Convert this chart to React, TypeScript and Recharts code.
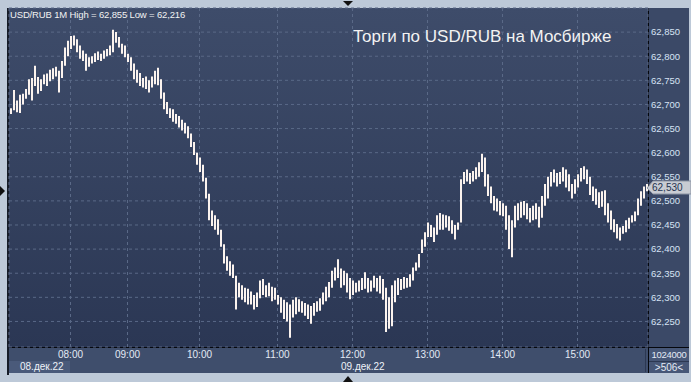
import React from "react";
import { ComposedChart, Bar, XAxis, YAxis, CartesianGrid } from "recharts";

// 1M bars USD/RUB (3 px per bar)
const highs = [
  62.692, 62.73, 62.708, 62.72, 62.722, 62.732, 62.752, 62.755, 62.78, 62.757,
  62.752, 62.762, 62.764, 62.772, 62.775, 62.778, 62.77, 62.79, 62.818, 62.832,
  62.842, 62.843, 62.835, 62.822, 62.812, 62.805, 62.798, 62.8, 62.806, 62.81,
  62.805, 62.812, 62.815, 62.822, 62.855, 62.85, 62.84, 62.826, 62.822, 62.805,
  62.798, 62.785, 62.772, 62.765, 62.755, 62.758, 62.75, 62.758, 62.77, 62.776,
  62.752, 62.725, 62.705, 62.692, 62.69, 62.68, 62.676, 62.668, 62.662, 62.655,
  62.64, 62.622, 62.6, 62.59, 62.575, 62.548, 62.515, 62.48, 62.47, 62.462,
  62.44, 62.41, 62.385, 62.375, 62.368, 62.345, 62.33, 62.325, 62.32, 62.318,
  62.312, 62.305, 62.31, 62.335, 62.338, 62.325, 62.33, 62.322, 62.32, 62.305,
  62.3, 62.295, 62.29, 62.285, 62.295, 62.3, 62.296, 62.292, 62.288, 62.285,
  62.282, 62.288, 62.292, 62.298, 62.31, 62.322, 62.332, 62.355, 62.362, 62.379,
  62.36, 62.355, 62.35, 62.34, 62.335, 62.33, 62.335, 62.34, 62.352, 62.34,
  62.335, 62.345, 62.34, 62.345, 62.338, 62.32, 62.3, 62.325, 62.335, 62.34,
  62.338, 62.342, 62.34, 62.348, 62.362, 62.372, 62.39, 62.42, 62.435, 62.455,
  62.45, 62.445, 62.47, 62.475, 62.472, 62.47, 62.468, 62.46, 62.45, 62.455,
  62.545, 62.56, 62.565, 62.558, 62.562, 62.57, 62.58, 62.598, 62.59, 62.555,
  62.53, 62.51, 62.505, 62.5, 62.495, 62.49, 62.47, 62.46, 62.49, 62.495,
  62.498, 62.5, 62.495, 62.485, 62.49, 62.495, 62.488, 62.51, 62.535, 62.55,
  62.56, 62.565, 62.558, 62.56, 62.57, 62.565, 62.555, 62.535, 62.545, 62.555,
  62.568, 62.572, 62.565, 62.55, 62.53, 62.525, 62.518, 62.52, 62.522, 62.495,
  62.48, 62.462, 62.452, 62.445, 62.448, 62.46, 62.465, 62.47, 62.478, 62.505,
  62.52, 62.53, 62.535,
];

const lows = [
  62.68, 62.688, 62.684, 62.682, 62.7, 62.712, 62.72, 62.708, 62.738, 62.722,
  62.728, 62.742, 62.738, 62.748, 62.752, 62.758, 62.725, 62.755, 62.78, 62.8,
  62.815, 62.822, 62.808, 62.795, 62.79, 62.77, 62.778, 62.785, 62.788, 62.792,
  62.79, 62.795, 62.8, 62.802, 62.808, 62.828, 62.818, 62.805, 62.798, 62.788,
  62.77, 62.752, 62.745, 62.738, 62.735, 62.732, 62.725, 62.735, 62.742, 62.74,
  62.712, 62.69, 62.68, 62.672, 62.664, 62.66, 62.652, 62.646, 62.64, 62.63,
  62.612, 62.595, 62.575, 62.56, 62.54, 62.505, 62.46, 62.448, 62.44, 62.43,
  62.405, 62.37, 62.355, 62.345, 62.34, 62.275, 62.3, 62.295, 62.29, 62.285,
  62.285, 62.275, 62.28, 62.298, 62.305, 62.3, 62.302, 62.292, 62.295, 62.285,
  62.268, 62.255, 62.25, 62.216, 62.258, 62.265, 62.27, 62.268, 62.262, 62.255,
  62.245, 62.262, 62.27, 62.272, 62.285, 62.292, 62.3, 62.32, 62.335, 62.34,
  62.32, 62.325, 62.31, 62.296, 62.305, 62.31, 62.312, 62.315, 62.318, 62.31,
  62.312, 62.32, 62.312, 62.308, 62.295, 62.228, 62.235, 62.24, 62.29, 62.305,
  62.315, 62.318, 62.32, 62.322, 62.335, 62.355, 62.362, 62.392, 62.405, 62.425,
  62.425, 62.415, 62.43, 62.44, 62.44, 62.445, 62.438, 62.432, 62.42, 62.44,
  62.455, 62.535, 62.54, 62.535, 62.54, 62.545, 62.55, 62.56, 62.53, 62.51,
  62.495, 62.48, 62.478, 62.47, 62.468, 62.44, 62.4, 62.383, 62.445, 62.46,
  62.465, 62.47, 62.462, 62.455, 62.46, 62.462, 62.445, 62.465, 62.49, 62.505,
  62.53, 62.538, 62.53, 62.535, 62.54, 62.528, 62.52, 62.505, 62.515, 62.528,
  62.54, 62.545, 62.535, 62.512, 62.5, 62.492, 62.485, 62.488, 62.47, 62.455,
  62.44, 62.435, 62.422, 62.418, 62.432, 62.435, 62.442, 62.455, 62.458, 62.47,
  62.49, 62.505, 62.52,
];

const hourLabels = ["08:00", "09:00", "10:00", "11:00", "12:00", "13:00", "14:00", "15:00"];
const hourBars = [20, 39, 63, 89, 114, 139, 164, 189];
const priceTicks = [
  62.25, 62.3, 62.35, 62.4, 62.45, 62.5, 62.55, 62.6, 62.65, 62.7, 62.75, 62.8, 62.85,
];
const dayLabels = ["08.дек.22", "09.дек.22"];
const lastPrice = 62.53;
const volume = "1024000";
const barCount = ">506<";

const data = highs.map((h, i) => ({ i, high: h, low: lows[i] }));

const FONT = "'Liberation Sans', Arial, sans-serif";
const fmt = (v: number) => v.toFixed(3).replace(".", ",");

const abs = (s: React.CSSProperties): React.CSSProperties => ({ position: "absolute", ...s });

export default function App() {
  return (
    <div style={abs({ left: 0, top: 0, width: 691, height: 382, background: "#bdc9d8", overflow: "hidden", fontFamily: FONT })}>
      {/* plot background */}
      <div style={abs({ left: 9, top: 8, width: 639, height: 339, background: "linear-gradient(#3e4c6a, #2b3754)" })} />
      {/* right axis panel */}
      <div style={abs({ left: 649, top: 8, width: 40, height: 339, background: "#3b4967" })} />
      {/* bottom axis panel */}
      <div style={abs({ left: 9, top: 348, width: 680, height: 25, background: "#3f4e6c" })} />
      <div style={abs({ left: 9, top: 361, width: 61, height: 12, background: "#4a5a7a" })} />
      <div style={abs({ left: 649, top: 348, width: 40, height: 25, background: "#475777" })} />
      <div style={abs({ left: 649, top: 361, width: 40, height: 1, background: "#2c3852" })} />
      <div style={abs({ left: 645, top: 349, width: 1, height: 23, background: "#2c3852" })} />
      {/* dark frame lines */}
      <div style={abs({ left: 7, top: 8, width: 2, height: 367, background: "#161c28" })} />
      <div style={abs({ left: 648, top: 8, width: 1, height: 365, background: "#05070c" })} />
      <div style={abs({ left: 9, top: 347, width: 680, height: 1, background: "#05070c" })} />

      <div style={abs({ left: 0, top: 0 })}>
        <ComposedChart
          width={691}
          height={382}
          data={data}
          margin={{ top: 8, right: 0, left: 9, bottom: 0 }}
          barCategoryGap={0}
        >
          <CartesianGrid stroke="#5a6987" strokeDasharray="3 3" />
          <XAxis
            dataKey="i"
            type="category"
            ticks={hourBars}
            interval={0}
            height={35}
            tickSize={0}
            tickMargin={4}
            axisLine={false}
            tickFormatter={(v: number) => hourLabels[hourBars.indexOf(v)] ?? ""}
            tick={{ fill: "#e3eaf5", fontSize: 10, fontFamily: FONT }}
          />
          <YAxis
            orientation="right"
            width={43}
            domain={[62.197, 62.9]}
            ticks={priceTicks}
            allowDataOverflow
            tickSize={0}
            tickMargin={3}
            axisLine={false}
            tickFormatter={fmt}
            tick={{ fill: "#d6e3f4", fontSize: 9.5, fontFamily: FONT }}
          />
          <Bar
            dataKey={(d: { low: number; high: number }) => [d.low, d.high]}
            barSize={2}
            fill="#fbf3ee"
            isAnimationActive={false}
          />
        </ComposedChart>
      </div>

      {/* texts */}
      <div style={abs({ left: 10, top: 9, fontSize: 9.5, letterSpacing: -0.15, lineHeight: "12px", color: "#f2f2f2", whiteSpace: "nowrap" })}>
        USD/RUB 1M High = 62,855 Low = 62,216
      </div>
      <div style={abs({ left: 353, top: 27, fontSize: 17, lineHeight: "20px", color: "#f3f3f3", whiteSpace: "nowrap" })}>
        Торги по USD/RUB на Мосбирже
      </div>
      <div style={abs({ left: 20, top: 361, fontSize: 10, lineHeight: "12px", color: "#eef2f8" })}>{dayLabels[0]}</div>
      <div style={abs({ left: 341, top: 361, fontSize: 10, lineHeight: "12px", color: "#eef2f8" })}>{dayLabels[1]}</div>
      <div style={abs({ left: 649, top: 349, width: 40, textAlign: "center", fontSize: 9.5, letterSpacing: -0.3, lineHeight: "12px", color: "#e3eaf5" })}>{volume}</div>
      <div style={abs({ left: 649, top: 362, width: 40, textAlign: "center", fontSize: 10, lineHeight: "11px", color: "#e3eaf5" })}>{barCount}</div>

      {/* last price tag */}
      <svg style={abs({ left: 644, top: 180 })} width={47} height={16}>
        <polygon points="3,8 9,1 47,1 47,14 9,14" fill="#c8ccd3" stroke="#8a93a3" strokeWidth={1} />
      </svg>
      <div style={abs({ left: 652, top: 181, fontSize: 10, lineHeight: "13px", color: "#24324f" })}>{fmt(lastPrice)}</div>

      {/* frame markers */}
      <svg style={abs({ left: 0, top: 0 })} width={691} height={382}>
        <polygon points="343,1 353,1 348,6" fill="#111" />
        <polygon points="0,186 5,191 0,196" fill="#111" />
        <polygon points="343,382 353,382 348,376" fill="#111" />
      </svg>
    </div>
  );
}
